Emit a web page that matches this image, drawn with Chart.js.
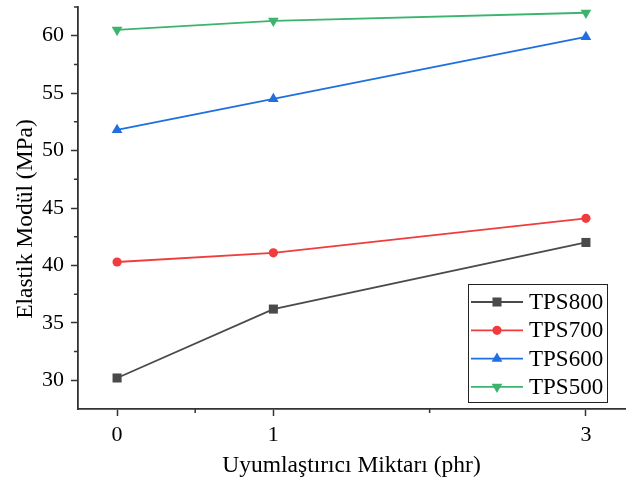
<!DOCTYPE html>
<html>
<head>
<meta charset="utf-8">
<script src="https://cdn.jsdelivr.net/npm/chart.js"></script>
<style>
  html, body { margin: 0; padding: 0; background: #fff; }
  canvas { display: block; }
</style>
</head>
<body>
<canvas id="chart" width="640" height="487"></canvas>
<script>
// --- data ---
const xValues = [0, 1, 3];
const tps800 = [30.2, 36.2, 42.0];
const tps700 = [40.3, 41.1, 44.1];
const tps600 = [51.8, 54.5, 59.9];
const tps500 = [60.5, 61.3, 62.0];

const xMajorTicks = [0, 1, 3];
const xMinorTicks = [0.5, 2];
const yMajorTicks = [30, 35, 40, 45, 50, 55, 60];
const yMinorTicks = [32.5, 37.5, 42.5, 47.5, 52.5, 57.5, 62.5];

const yTitle = 'Elastik Modül (MPa)';
const xTitle = 'Uyumlaştırıcı Miktarı (phr)';

const FONT = "'Liberation Serif', 'Times New Roman', serif";
const AXIS = '#333333';

const toPoints = (vals) => vals.map((v, i) => ({ x: xValues[i], y: v }));

const series = [
    { label: 'TPS800', data: tps800, color: '#4a4a4a', style: 'rect', radius: 6.4, rotation: 0 },
    { label: 'TPS700', data: tps700, color: '#f03c3c', style: 'circle', radius: 4.6, rotation: 0 },
    { label: 'TPS600', data: tps600, color: '#1f6fe0', style: 'triangle', radius: 6.2, rotation: 0 },
    { label: 'TPS500', data: tps500, color: '#3cb46e', style: 'triangle', radius: 6.2, rotation: 180 }
];

// minor ticks on both axes + the y title (sits a bit below the axis centre)
const axisExtras = {
    id: 'axisExtras',
    afterDraw(chart) {
        const { ctx, scales: { x, y } } = chart;
        ctx.save();
        ctx.strokeStyle = AXIS;
        ctx.lineWidth = 1.5;
        ctx.beginPath();
        xMinorTicks.forEach(v => {
            const px = x.getPixelForValue(v);
            ctx.moveTo(px, x.top);
            ctx.lineTo(px, x.top + 4);
        });
        yMinorTicks.forEach(v => {
            const py = y.getPixelForValue(v);
            ctx.moveTo(y.right, py);
            ctx.lineTo(y.right - 4, py);
        });
        ctx.stroke();

        ctx.translate(26, (y.top + y.bottom) / 2 + 11);
        ctx.rotate(-Math.PI / 2);
        ctx.font = `23.5px ${FONT}`;
        ctx.fillStyle = '#000';
        ctx.textAlign = 'center';
        ctx.textBaseline = 'middle';
        ctx.fillText(yTitle, 0, 0);
        ctx.restore();
    }
};

// boxed legend in the lower right of the plot
const boxLegend = {
    id: 'boxLegend',
    afterDraw(chart) {
        const { ctx, chartArea } = chart;
        const w = 139, h = 118, rowH = 28.3;
        const left = chartArea.right - 18 - w;
        const top = chartArea.bottom - 7 - h;
        ctx.save();
        ctx.fillStyle = '#fff';
        ctx.fillRect(left, top, w, h);
        ctx.strokeStyle = '#222';
        ctx.lineWidth = 1;
        ctx.strokeRect(left + 0.5, top + 0.5, w, h);
        ctx.font = `23px ${FONT}`;
        ctx.textBaseline = 'middle';
        chart.data.datasets.forEach((ds, i) => {
            const cy = top + 18 + i * rowH;
            ctx.strokeStyle = ds.borderColor;
            ctx.fillStyle = ds.backgroundColor;
            ctx.lineWidth = 1.8;
            ctx.beginPath();
            ctx.moveTo(left + 3, cy);
            ctx.lineTo(left + 55, cy);
            ctx.stroke();
            Chart.helpers.drawPoint(ctx, {
                pointStyle: ds.pointStyle,
                rotation: ds.pointRotation,
                radius: ds.pointRadius,
                borderWidth: 0
            }, left + 29, cy);
            ctx.fillStyle = '#000';
            ctx.fillText(ds.label, left + 61, cy + 1);
        });
        ctx.restore();
    }
};

new Chart(document.getElementById('chart'), {
    type: 'line',
    data: {
        datasets: series.map(s => ({
            label: s.label,
            data: toPoints(s.data),
            borderColor: s.color,
            backgroundColor: s.color,
            borderWidth: 1.8,
            tension: 0,
            pointStyle: s.style,
            pointRotation: s.rotation,
            pointRadius: s.radius,
            pointBorderWidth: 0,
            pointBackgroundColor: s.color
        }))
    },
    options: {
        responsive: false,
        animation: false,
        layout: { padding: { top: 7, right: 15, left: 0, bottom: 0 } },
        plugins: { legend: { display: false }, tooltip: { enabled: false } },
        scales: {
            x: {
                type: 'linear',
                min: -0.25,
                max: 3.25,
                afterBuildTicks: (scale) => { scale.ticks = xMajorTicks.map(v => ({ value: v })); },
                afterFit: (scale) => {
                    scale.height = 78;
                    scale.paddingLeft = 0;
                    scale.paddingRight = 0;
                },
                ticks: { color: '#000', font: { family: FONT, size: 22 }, padding: 6, maxRotation: 0 },
                grid: { drawOnChartArea: false, tickLength: 7, tickColor: AXIS, tickWidth: 1.5 },
                border: { color: AXIS, width: 1.8 },
                title: {
                    display: true,
                    text: xTitle,
                    color: '#000',
                    font: { family: FONT, size: 23.5 },
                    padding: { top: 0, bottom: 7 }
                }
            },
            y: {
                min: 27.5,
                max: 62.5,
                afterBuildTicks: (scale) => { scale.ticks = yMajorTicks.map(v => ({ value: v })); },
                afterFit: (scale) => {
                    scale.width = 78;
                    scale.paddingTop = 0;
                    scale.paddingBottom = 0;
                },
                ticks: { color: '#000', font: { family: FONT, size: 22 }, padding: 7 },
                grid: { drawOnChartArea: false, tickLength: 7, tickColor: AXIS, tickWidth: 1.5 },
                border: { color: AXIS, width: 1.8 },
                title: { display: false }
            }
        }
    },
    plugins: [axisExtras, boxLegend]
});
</script>
</body>
</html>
